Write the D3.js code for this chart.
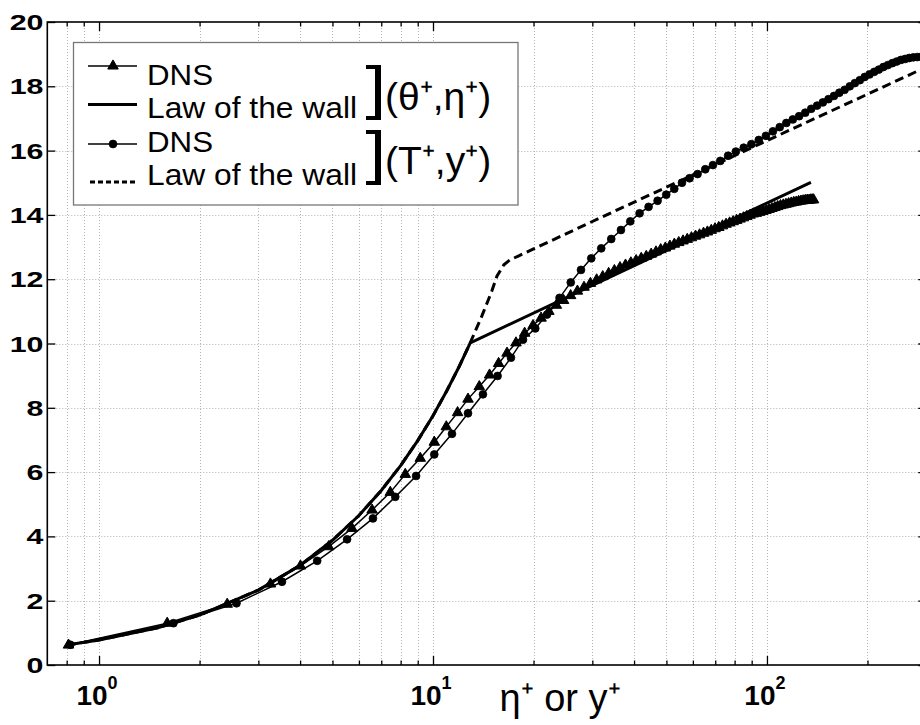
<!DOCTYPE html>
<html><head><meta charset="utf-8">
<script src="https://cdn.jsdelivr.net/npm/d3@7"></script>
<style>body{margin:0;background:#fff}svg{display:block}</style>
</head><body>
<svg id="c" width="920" height="725"></svg>
<script>
// ---- data ----
// DNS, (theta+, eta+)  -- triangles
const etaDNS = [0.81,1.60,2.42,3.26,4.01,4.87,5.72,6.57,7.45,8.26,9.16,10.09,10.96,11.85,12.73,13.76,14.77,15.72,16.66,17.72,18.81,19.93,21.07,22.23,23.41,24.61,25.83,27.07,28.33,29.61,30.91,32.23,33.57,34.93,36.31,37.71,39.13,40.57,42.03,43.51,45.01,46.53,48.07,49.63,51.21,52.81,54.43,56.07,57.73,59.41,61.11,62.83,64.57,66.33,68.11,69.91,71.73,73.57,75.43,77.31,79.21,81.13,83.07,85.03,87.0,89.0,91.0,93.0,95.1,97.2,99.3,101.4,103.5,105.6,107.7,109.8,111.9,114.0,116.1,118.2,120.3,122.4,124.4,126.4,128.3,130.2,132.0,133.7,135.3,136.7,137.9];
const thetaDNS = [0.62,1.30,1.89,2.52,3.08,3.68,4.25,4.82,5.37,5.93,6.43,6.93,7.41,7.85,8.27,8.66,9.02,9.38,9.70,10.02,10.32,10.56,10.79,11.00,11.19,11.34,11.49,11.63,11.75,11.87,11.98,12.08,12.18,12.27,12.36,12.44,12.51,12.58,12.65,12.71,12.78,12.85,12.92,12.97,13.03,13.09,13.14,13.19,13.24,13.29,13.34,13.38,13.43,13.47,13.52,13.57,13.61,13.66,13.71,13.75,13.79,13.83,13.87,13.91,13.95,13.99,14.03,14.05,14.08,14.11,14.14,14.17,14.20,14.23,14.26,14.29,14.31,14.33,14.35,14.37,14.39,14.40,14.42,14.43,14.44,14.45,14.46,14.46,14.47,14.47,14.47];
// DNS, (T+, y+)  -- circles
const yDNS = [0.82,1.67,2.58,3.53,4.50,5.53,6.61,7.71,8.90,10.09,11.40,12.73,14.11,15.61,17.12,18.60,20.24,21.95,23.93,25.85,27.74,29.78,31.90,34.18,36.54,38.97,41.55,44.21,47.05,49.94,52.78,55.66,58.66,61.97,65.36,68.91,72.48,76.5,80.7,85.2,89.8,94.5,99.3,104.2,109.2,114.3,119.5,124.8,130.2,135.7,141.3,147.0,152.8,158.7,164.7,170.8,177.0,183.3,189.7,196.2,202.8,209.5,216.3,223.2,230.2,237.3,244.5,251.8,259.2,266.7,274.3,282.0,289.8,297.6];
const TDNS = [0.63,1.30,1.92,2.59,3.24,3.91,4.56,5.23,5.88,6.55,7.19,7.83,8.42,8.99,9.56,10.12,10.47,10.90,11.42,11.90,12.29,12.65,12.96,13.25,13.53,13.80,14.05,14.25,14.44,14.63,14.81,15.00,15.14,15.27,15.42,15.55,15.68,15.84,15.97,16.09,16.20,16.33,16.46,16.60,16.73,16.86,16.97,17.07,17.18,17.30,17.40,17.50,17.60,17.70,17.80,17.89,18.00,18.10,18.19,18.29,18.37,18.45,18.52,18.60,18.66,18.72,18.77,18.82,18.85,18.88,18.90,18.91,18.92,18.93];
// Law of the wall, (theta+, eta+) -- solid
const etaLaw = [0.8,1,1.5,2,3,4,5,6,7,8,9,10,11,12,12.93,135.4];
const thetaLaw = [0.62,0.78,1.16,1.55,2.33,3.10,3.88,4.65,5.43,6.20,6.98,7.75,8.53,9.30,10.02,15.01];
// Law of the wall, (T+, y+) -- dashed
const yLaw = [0.8,1,1.5,2,3,4,5,6,7,8,9,10,11,12,13,14,15,15.55,16.3,17.0,18.0,20,31.7,100,300];
const TLaw = [0.62,0.78,1.16,1.55,2.33,3.10,3.88,4.65,5.43,6.20,6.98,7.75,8.53,9.30,10.08,10.85,11.63,12.10,12.45,12.60,12.72,12.94,13.91,16.31,18.60];
// ticks
const yTicks = [0,2,4,6,8,10,12,14,16,18,20];
const xMajor = [1,10,100];
const xExp = ["0","1","2"];
const xMinor = [0.8,0.9,2,3,4,5,6,7,8,9,20,30,40,50,60,70,80,90,200,300];
const xLabel = "η⁺ or y⁺";
const legendLabels = ["DNS","Law of the wall","DNS","Law of the wall"];
const groupLabels = ["(θ⁺,η⁺)","(T⁺,y⁺)"];

// ---- drawing ----
const W=920,H=725;
const L=47.3,R=926.3,T=22,B=665;
const svg=d3.select("#c");
svg.append("rect").attr("width",W).attr("height",H).attr("fill","#fff");
const x=d3.scaleLog().domain([0.7,300]).range([L,R]);
const y=d3.scaleLinear().domain([0,20]).range([B,T]);

svg.append("clipPath").attr("id","pa").append("rect")
  .attr("x",L).attr("y",T).attr("width",R-L).attr("height",B-T);

// grid
const grid=svg.append("g").attr("stroke","#b4b4b4").attr("stroke-width",1).attr("stroke-dasharray","1,2");
xMajor.concat(xMinor).filter(v=>v<300).forEach(v=>{
  grid.append("line").attr("x1",Math.round(x(v))+0.5).attr("x2",Math.round(x(v))+0.5).attr("y1",T).attr("y2",B);
});
yTicks.filter(v=>v>0&&v<20).forEach(v=>{
  grid.append("line").attr("x1",L).attr("x2",R).attr("y1",Math.round(y(v))+0.5).attr("y2",Math.round(y(v))+0.5);
});

// axes (inward ticks)
const fontTick="'Liberation Sans',Arial,sans-serif";
const ax=svg.append("g");
ax.append("g").attr("transform",`translate(0,${B})`)
  .call(d3.axisBottom(x).tickValues(xMinor).tickSizeInner(-4.5).tickSizeOuter(0).tickFormat(""));
ax.append("g").attr("transform",`translate(0,${B})`)
  .call(d3.axisBottom(x).tickValues(xMajor).tickSizeInner(-9).tickSizeOuter(0).tickFormat(()=>""));
ax.append("g").attr("transform",`translate(0,${T})`)
  .call(d3.axisTop(x).tickValues(xMinor).tickSizeInner(-4.5).tickSizeOuter(0).tickFormat(""));
ax.append("g").attr("transform",`translate(0,${T})`)
  .call(d3.axisTop(x).tickValues(xMajor).tickSizeInner(-9).tickSizeOuter(0).tickFormat(""));
const lAx=ax.append("g").attr("transform",`translate(${L},0)`)
  .call(d3.axisLeft(y).tickValues(yTicks).tickSizeInner(-8).tickSizeOuter(0).tickPadding(4));
ax.append("g").attr("transform",`translate(${R},0)`)
  .call(d3.axisRight(y).tickValues(yTicks).tickSizeInner(-8).tickSizeOuter(0).tickFormat(""));
ax.selectAll(".domain").remove();
ax.selectAll(".tick line").attr("stroke","#000").attr("stroke-width",1.3);
// box
svg.append("rect").attr("x",L).attr("y",T).attr("width",R-L).attr("height",B-T)
  .attr("fill","none").attr("stroke","#000").attr("stroke-width",1.6);

// y tick labels: bold, wide
lAx.selectAll(".tick text").each(function(d){
  const ty=y(d);
  d3.select(this).remove();
  svg.append("text").attr("transform",`translate(43.5,${ty+8}) scale(1.38,1)`)
    .attr("text-anchor","end").attr("font-family",fontTick).attr("font-weight","bold")
    .attr("font-size",22).attr("fill","#000").text(d);
});
// x tick labels: 10^n
xMajor.forEach((v,i)=>{
  const t=svg.append("text").attr("x",x(v)-2).attr("y",705).attr("text-anchor","middle")
    .attr("font-family",fontTick).attr("font-weight","bold").attr("font-size",28).attr("fill","#000");
  t.append("tspan").text("10");
  t.append("tspan").attr("dy",-16).attr("font-size",18).text(xExp[i]);
});
// x axis label
svg.append("text").attr("x",560).attr("y",711).attr("text-anchor","middle")
  .attr("font-family",fontTick).attr("font-size",38).attr("fill","#000").text(xLabel);

// ---- series ----
const plot=svg.append("g").attr("clip-path","url(#pa)");
const line=d3.line().x(d=>x(d[0])).y(d=>y(d[1]));
const triPts=etaDNS.map((v,i)=>[v,thetaDNS[i]]);
const cirPts=yDNS.map((v,i)=>[v,TDNS[i]]);
const lawS=etaLaw.map((v,i)=>[v,thetaLaw[i]]);
const lawD=yLaw.map((v,i)=>[v,TLaw[i]]);

plot.append("path").datum(lawD).attr("d",line).attr("fill","none").attr("stroke","#000")
  .attr("stroke-width",3).attr("stroke-dasharray","9,5");
plot.append("path").datum(lawS).attr("d",line).attr("fill","none").attr("stroke","#000")
  .attr("stroke-width",3);
plot.append("path").datum(triPts).attr("d",line).attr("fill","none").attr("stroke","#000").attr("stroke-width",1.5);
plot.append("path").datum(cirPts).attr("d",line).attr("fill","none").attr("stroke","#000").attr("stroke-width",1.5);
const tri=d3.symbol().type(d3.symbolTriangle).size(48);
plot.selectAll(".tri").data(triPts).enter().append("path")
  .attr("transform",d=>`translate(${x(d[0])},${y(d[1])})`).attr("d",tri)
  .attr("fill","#000").attr("stroke","#000").attr("stroke-width",1).attr("stroke-linejoin","round");
plot.selectAll(".cir").data(cirPts).enter().append("circle")
  .attr("cx",d=>x(d[0])).attr("cy",d=>y(d[1])).attr("r",3.9)
  .attr("fill","#000").attr("stroke","#000").attr("stroke-width",0.8);

// ---- legend ----
const lg=svg.append("g");
lg.append("rect").attr("x",73.5).attr("y",42.5).attr("width",444.5).attr("height",162.5)
  .attr("fill","#fff").attr("stroke","#777").attr("stroke-width",1.3);
const rowLineY=[66,104.5,144,182];
const rowTextY=[84.5,118,151.5,185];
const rowTextW=[66,210,66,210];
lg.append("line").attr("x1",88).attr("x2",137).attr("y1",rowLineY[0]).attr("y2",rowLineY[0]).attr("stroke","#000").attr("stroke-width",1.5);
lg.append("path").attr("transform",`translate(113,${rowLineY[0]})`).attr("d",tri).attr("fill","#000").attr("stroke","#000").attr("stroke-width",1).attr("stroke-linejoin","round");
lg.append("line").attr("x1",88).attr("x2",137).attr("y1",rowLineY[1]).attr("y2",rowLineY[1]).attr("stroke","#000").attr("stroke-width",3);
lg.append("line").attr("x1",88).attr("x2",137).attr("y1",rowLineY[2]).attr("y2",rowLineY[2]).attr("stroke","#000").attr("stroke-width",1.5);
lg.append("circle").attr("cx",113).attr("cy",rowLineY[2]).attr("r",3.9).attr("fill","#000").attr("stroke","#000").attr("stroke-width",0.8);
lg.append("line").attr("x1",90).attr("x2",137).attr("y1",rowLineY[3]).attr("y2",rowLineY[3]).attr("stroke","#000").attr("stroke-width",3).attr("stroke-dasharray","5,3");
legendLabels.forEach((s,i)=>{
  lg.append("text").attr("x",147).attr("y",rowTextY[i]).attr("font-family",fontTick)
    .attr("font-size",29.5).attr("textLength",rowTextW[i]).attr("lengthAdjust","spacingAndGlyphs")
    .attr("fill","#000").text(s);
});
// brackets
[[65,120],[130,185]].forEach(([a,b])=>{
  lg.append("path").attr("d",`M366,${a} H381 V${b} H366 V${b-4} H375 V${a+4} H366 Z`).attr("fill","#000");
});
groupLabels.forEach((s,i)=>{
  lg.append("text").attr("x",385).attr("y",[110,174][i]).attr("font-family",fontTick)
    .attr("font-size",39).attr("fill","#000").text(s);
});
</script>
</body></html>
